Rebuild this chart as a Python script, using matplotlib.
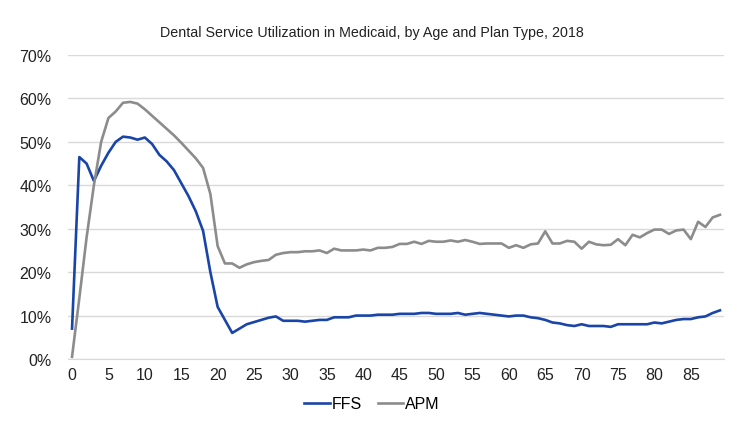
import numpy as np
import matplotlib.pyplot as plt
from matplotlib.ticker import PercentFormatter

# ages 0..89
ages = np.arange(0, 90)

# share of enrollees with a dental service, percent
ffs = [7.0, 46.5, 45.0, 41.0, 44.5, 47.5, 50.0, 51.2, 51.0, 50.5,
       51.0, 49.5, 47.0, 45.5, 43.5, 40.5, 37.5, 34.0, 29.5, 20.0,
       12.0, 9.0, 6.0, 7.0, 8.0, 8.5, 9.0, 9.5, 9.8, 8.8,
       8.8, 8.8, 8.6, 8.8, 9.0, 9.0, 9.6, 9.6, 9.6, 10.0,
       10.0, 10.0, 10.2, 10.2, 10.2, 10.4, 10.4, 10.4, 10.6, 10.6,
       10.4, 10.4, 10.4, 10.6, 10.2, 10.4, 10.6, 10.4, 10.2, 10.0,
       9.8, 10.0, 10.0, 9.6, 9.4, 9.0, 8.4, 8.2, 7.8, 7.6,
       8.0, 7.6, 7.6, 7.6, 7.4, 8.0, 8.0, 8.0, 8.0, 8.0,
       8.4, 8.2, 8.6, 9.0, 9.2, 9.2, 9.6, 9.8, 10.6, 11.2]
apm = [0.5, 14.0, 28.0, 40.0, 50.0, 55.5, 57.0, 59.0, 59.2, 58.8,
       57.5, 56.0, 54.5, 53.0, 51.5, 49.8, 48.0, 46.2, 44.0, 38.0,
       26.0, 22.0, 22.0, 21.0, 21.8, 22.3, 22.6, 22.8, 24.0, 24.4,
       24.6, 24.6, 24.8, 24.8, 25.0, 24.4, 25.4, 25.0, 25.0, 25.0,
       25.2, 25.0, 25.6, 25.6, 25.8, 26.5, 26.5, 27.0, 26.5, 27.2,
       27.0, 27.0, 27.3, 27.0, 27.4, 27.0, 26.5, 26.6, 26.6, 26.6,
       25.6, 26.2, 25.6, 26.4, 26.6, 29.4, 26.6, 26.6, 27.2, 27.0,
       25.4, 27.0, 26.4, 26.2, 26.3, 27.6, 26.2, 28.6, 28.0, 29.0,
       29.8, 29.8, 28.8, 29.6, 29.8, 27.6, 31.6, 30.4, 32.6, 33.2]

plt.rcParams['font.family'] = ['Liberation Sans', 'DejaVu Sans']

fig = plt.figure(figsize=(7.44, 4.35), dpi=100)
ax = fig.add_axes([68.4/744, 1-360/435, (723.6-68.4)/744, (360-56)/435])

ax.plot(ages, ffs, color='#1a45a8', lw=1.9, label='FFS')
ax.plot(ages, apm, color='#8c8c8c', lw=1.9, label='APM')

ax.set_xlim(-0.5, 89.5)
ax.set_ylim(0, 70)
ax.set_xticks(np.arange(0, 90, 5))
ax.set_yticks(np.arange(0, 71, 10))
ax.yaxis.set_major_formatter(PercentFormatter(decimals=0))
ax.grid(axis='y', color='#d9d9d9', lw=1)
ax.set_axisbelow(True)
for s in ['top', 'right', 'left']:
    ax.spines[s].set_visible(False)
ax.spines['bottom'].set_color('#d9d9d9')
ax.tick_params(length=0, labelsize=11.5, colors='#222222')
ax.tick_params(axis='x', pad=6)
ax.tick_params(axis='y', pad=12)

fig.text(0.5, 1-33/435, 'Dental Service Utilization in Medicaid, by Age and Plan Type, 2018',
         ha='center', va='center', fontsize=10.3, color='#222222')

fig.legend(loc='center', bbox_to_anchor=(0.5, 1-405/435), ncol=2, frameon=False,
           fontsize=11.5, handlelength=1.6, handletextpad=0.1, columnspacing=1.0)

fig.savefig('out.png', dpi=100)
